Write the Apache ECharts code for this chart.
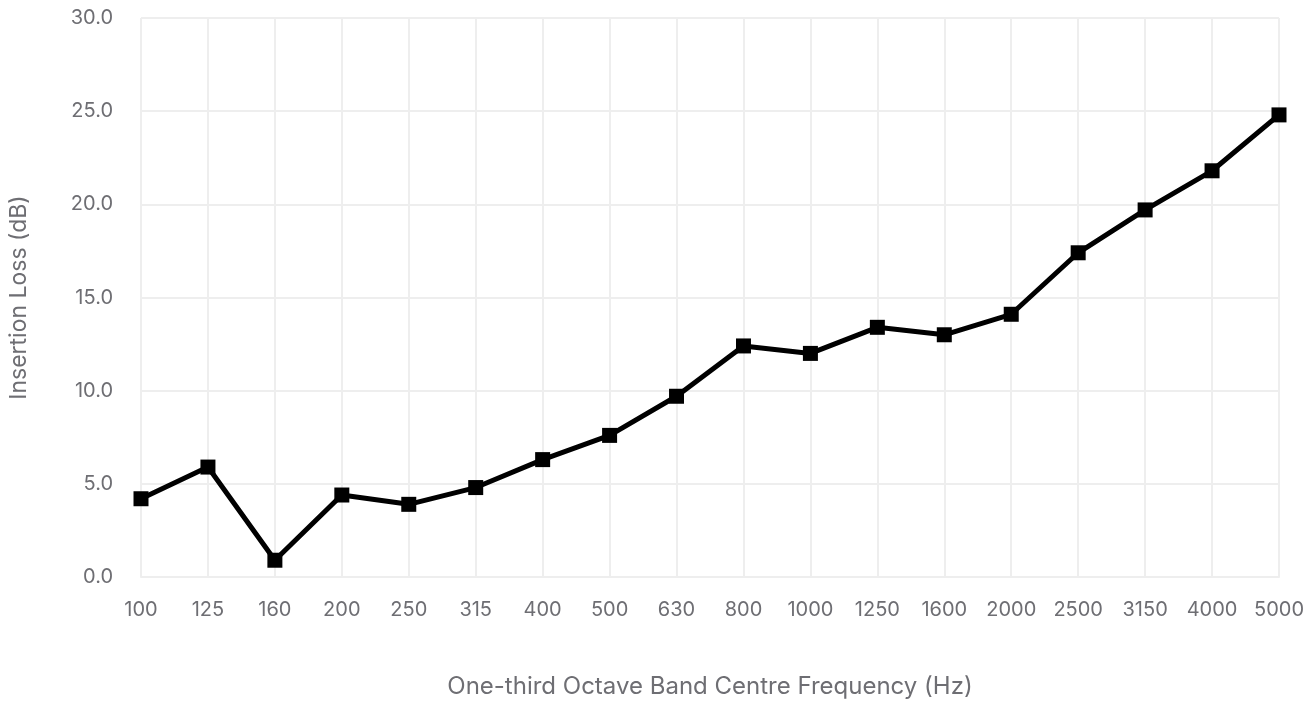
<!DOCTYPE html>
<html><head><meta charset="utf-8">
<script src="https://cdn.jsdelivr.net/npm/echarts@6/dist/echarts.min.js"></script>
<style>html,body{margin:0;padding:0;background:#fff}#c{width:1314px;height:704px}</style>
</head><body><div id="c"></div>
<script>
const categories = ['100','125','160','200','250','315','400','500','630','800','1000','1250','1600','2000','2500','3150','4000','5000'];
const insertionLoss = [4.2,5.9,0.9,4.4,3.9,4.8,6.3,7.6,9.7,12.4,12.0,13.4,13.0,14.1,17.4,19.7,21.8,24.8];
const yTicks = {min:0,max:30,interval:5};
const chart = echarts.init(document.getElementById('c'));
const txt = '#6e6e73';
const gridC = '#eeeeee';
chart.setOption({
  animation:false,
  grid:{left:139,right:35,top:18,bottom:125},
  xAxis:{type:'category',data:categories,boundaryGap:false,
    name:'One-third Octave Band Centre Frequency (Hz)',nameLocation:'middle',nameGap:98,
    nameTextStyle:{color:txt,fontSize:24,fontFamily:'Inter'},
    axisLine:{lineStyle:{color:gridC,width:2}},axisTick:{show:false},
    axisLabel:{color:txt,fontSize:20,fontFamily:'Inter',margin:23,interval:0},
    splitLine:{show:true,lineStyle:{color:gridC,width:2}}},
  yAxis:{type:'value',min:yTicks.min,max:yTicks.max,interval:yTicks.interval,
    name:'Insertion Loss (dB)',nameLocation:'middle',nameGap:110,
    nameTextStyle:{color:txt,fontSize:23,fontFamily:'Inter'},
    axisLine:{show:false},axisTick:{show:false},
    axisLabel:{color:txt,fontSize:20,fontFamily:'Inter',margin:28,formatter:v=>v.toFixed(1)},
    splitLine:{lineStyle:{color:gridC,width:2}}},
  series:[{type:'line',data:insertionLoss,symbol:'rect',symbolSize:15,
    lineStyle:{color:'#000',width:5},itemStyle:{color:'#000'}}]
});
</script></body></html>
